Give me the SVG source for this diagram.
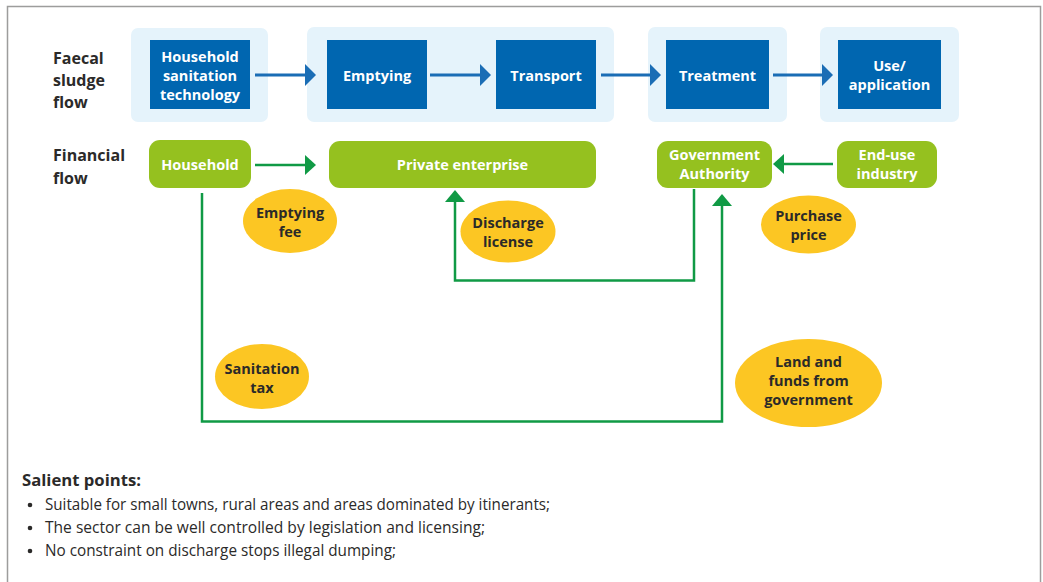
<svg xmlns="http://www.w3.org/2000/svg" width="1043" height="582" viewBox="0 0 1043 582">
  <defs>
    <style>
      .frame { fill: #ffffff; stroke: #9d9d9c; stroke-width: 1.5; }
      .panel { fill: #e5f3fb; }
      .stage { fill: #0066b0; }
      .actor { fill: #95c11f; }
      .money { fill: #fcc623; }
      .flowb { stroke: #1a6db5; stroke-width: 3; fill: none; }
      .flowg { stroke: #109a45; stroke-width: 2.5; fill: none; }
      .headb { fill: #1a6db5; }
      .headg { fill: #109a45; }
      .wt { font-family: "Open Sans", "Noto Sans", sans-serif; font-weight: bold; font-size: 14.5px; fill: #ffffff; text-anchor: middle; }
      .dt { font-family: "Open Sans", "Noto Sans", sans-serif; font-weight: bold; font-size: 14.5px; fill: #2b2a29; text-anchor: middle; }
      .row { font-family: "Open Sans", "Noto Sans", sans-serif; font-weight: bold; font-size: 16px; fill: #2b2a29; }
      .note { font-family: "Open Sans", "Noto Sans", sans-serif; font-size: 16px; fill: #2b2a29; }
      .noteh { font-family: "Open Sans", "Noto Sans", sans-serif; font-weight: bold; font-size: 16.5px; fill: #2b2a29; }
    </style>
  </defs>

  <rect class="frame" x="7.5" y="6.5" width="1033" height="600"/>

  <!-- row labels -->
  <g id="row-labels">
    <text class="row" x="53" y="64">Faecal</text>
    <text class="row" x="53" y="86">sludge</text>
    <text class="row" x="53" y="108">flow</text>
    <text class="row" x="53" y="161">Financial</text>
    <text class="row" x="53" y="184">flow</text>
  </g>

  <!-- background panels of the sludge chain -->
  <g id="panels">
    <rect class="panel" x="131" y="28" width="137" height="94" rx="7"/>
    <rect class="panel" x="307" y="27" width="307" height="95" rx="7"/>
    <rect class="panel" x="648" y="27" width="139" height="95" rx="7"/>
    <rect class="panel" x="820" y="27" width="139" height="95" rx="7"/>
  </g>

  <!-- sludge chain stages -->
  <g id="stage-household">
    <rect class="stage" x="150" y="40" width="100" height="69"/>
    <text class="wt" x="200" y="62">Household</text>
    <text class="wt" x="200" y="81">sanitation</text>
    <text class="wt" x="200" y="100">technology</text>
  </g>
  <g id="stage-emptying">
    <rect class="stage" x="327" y="40" width="100" height="69"/>
    <text class="wt" x="377" y="81">Emptying</text>
  </g>
  <g id="stage-transport">
    <rect class="stage" x="496" y="40" width="100" height="69"/>
    <text class="wt" x="546" y="81">Transport</text>
  </g>
  <g id="stage-treatment">
    <rect class="stage" x="666" y="40" width="103" height="69"/>
    <text class="wt" x="717.5" y="81">Treatment</text>
  </g>
  <g id="stage-use">
    <rect class="stage" x="838" y="40" width="103" height="69"/>
    <text class="wt" x="889.5" y="71">Use/</text>
    <text class="wt" x="889.5" y="90">application</text>
  </g>

  <!-- financial actors -->
  <g id="actor-household">
    <rect class="actor" x="149" y="140" width="102" height="48" rx="11"/>
    <text class="wt" x="200" y="170">Household</text>
  </g>
  <g id="actor-private">
    <rect class="actor" x="329" y="141" width="267" height="47" rx="11"/>
    <text class="wt" x="462.5" y="170">Private enterprise</text>
  </g>
  <g id="actor-government">
    <rect class="actor" x="657" y="141" width="115" height="47" rx="11"/>
    <text class="wt" x="714.5" y="160">Government</text>
    <text class="wt" x="714.5" y="179">Authority</text>
  </g>
  <g id="actor-enduse">
    <rect class="actor" x="837" y="141" width="100" height="47" rx="11"/>
    <text class="wt" x="887" y="160">End-use</text>
    <text class="wt" x="887" y="179">industry</text>
  </g>

  <!-- connectors -->
  <g id="connectors">
    <!-- sludge flow -->
    <line class="flowb" x1="255" y1="75" x2="306" y2="75"/>
    <polygon class="headb" points="305,64 316,75 305,86"/>
    <line class="flowb" x1="430" y1="75" x2="481" y2="75"/>
    <polygon class="headb" points="480,64 491,75 480,86"/>
    <line class="flowb" x1="601" y1="75" x2="651" y2="75"/>
    <polygon class="headb" points="650,64 661,75 650,86"/>
    <line class="flowb" x1="773" y1="75" x2="823" y2="75"/>
    <polygon class="headb" points="822,64 833,75 822,86"/>

    <!-- money flow -->
    <line class="flowg" x1="255" y1="165" x2="306" y2="165"/>
    <polygon class="headg" points="305,155 316,165 305,175"/>
    <line class="flowg" x1="833" y1="164" x2="783" y2="164"/>
    <polygon class="headg" points="784,154 773,164 784,174"/>

    <!-- discharge licence loop -->
    <polyline class="flowg" points="694,189 694,280.5 455,280.5 455,201"/>
    <polygon class="headg" points="445,202 455,190 465,202"/>

    <!-- sanitation tax loop -->
    <polyline class="flowg" points="202,193 202,421.5 722,421.5 722,205"/>
    <polygon class="headg" points="712,206 722,194 732,206"/>
  </g>

  <!-- payment labels -->
  <g id="pay-emptying-fee">
    <ellipse class="money" cx="290" cy="221" rx="47" ry="32"/>
    <text class="dt" x="290" y="218">Emptying</text>
    <text class="dt" x="290" y="237">fee</text>
  </g>
  <g id="pay-discharge">
    <ellipse class="money" cx="508" cy="231.5" rx="47.5" ry="31"/>
    <text class="dt" x="508" y="228">Discharge</text>
    <text class="dt" x="508" y="247">license</text>
  </g>
  <g id="pay-purchase">
    <ellipse class="money" cx="808.5" cy="224.5" rx="47.5" ry="29"/>
    <text class="dt" x="808.5" y="221">Purchase</text>
    <text class="dt" x="808.5" y="240">price</text>
  </g>
  <g id="pay-sanitation-tax">
    <ellipse class="money" cx="262" cy="376.5" rx="47" ry="32.5"/>
    <text class="dt" x="262" y="374">Sanitation</text>
    <text class="dt" x="262" y="393">tax</text>
  </g>
  <g id="pay-land-funds">
    <ellipse class="money" cx="808.5" cy="383" rx="73.5" ry="44"/>
    <text class="dt" x="808.5" y="367">Land and</text>
    <text class="dt" x="808.5" y="386">funds from</text>
    <text class="dt" x="808.5" y="405">government</text>
  </g>

  <!-- notes -->
  <g id="notes">
    <text class="noteh" x="22" y="486" textLength="119" lengthAdjust="spacingAndGlyphs">Salient points:</text>
    <circle cx="30" cy="505" r="2.3" fill="#2b2a29"/>
    <circle cx="30" cy="528" r="2.3" fill="#2b2a29"/>
    <circle cx="30" cy="551" r="2.3" fill="#2b2a29"/>
    <text class="note" x="45" y="510" textLength="505" lengthAdjust="spacingAndGlyphs">Suitable for small towns, rural areas and areas dominated by itinerants;</text>
    <text class="note" x="45" y="533" textLength="440" lengthAdjust="spacingAndGlyphs">The sector can be well controlled by legislation and licensing;</text>
    <text class="note" x="45" y="556" textLength="351" lengthAdjust="spacingAndGlyphs">No constraint on discharge stops illegal dumping;</text>
  </g>
</svg>
